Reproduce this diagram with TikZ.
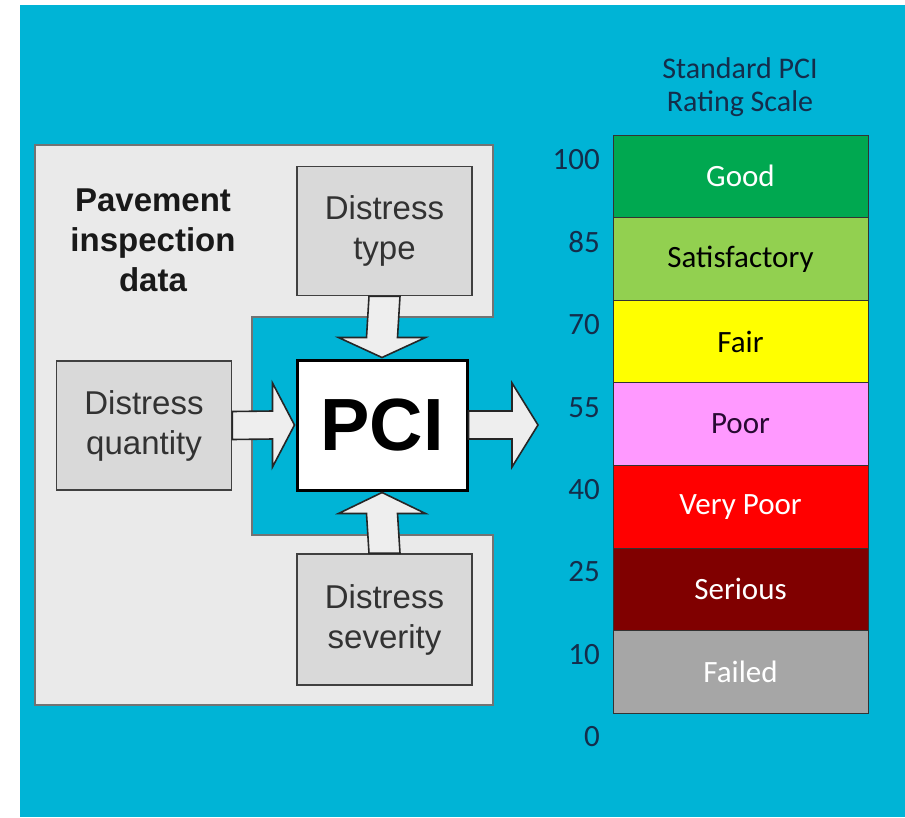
\documentclass[tikz,border=0pt]{standalone}
\usepackage{fontspec}
\setmainfont{Liberation Sans}
\newfontfamily\calfont{Carlito}
\usetikzlibrary{positioning,calc}
\definecolor{skyblue}{RGB}{0,180,214}
\definecolor{panelgray}{RGB}{234,234,234}
\definecolor{boxgray}{RGB}{217,217,217}
\definecolor{arrowgray}{RGB}{238,238,238}
\definecolor{inkgray}{RGB}{50,50,50}
\definecolor{navy}{RGB}{20,45,75}
\definecolor{good}{RGB}{0,168,80}
\definecolor{satis}{RGB}{146,208,80}
\definecolor{fair}{RGB}{255,255,0}
\definecolor{poor}{RGB}{255,153,255}
\definecolor{vpoor}{RGB}{255,0,0}
\definecolor{serious}{RGB}{128,0,0}
\definecolor{failed}{RGB}{166,166,166}
\definecolor{poortext}{RGB}{40,10,50}

\begin{document}
\begin{tikzpicture}[x=1pt, y=-1pt,
 inbox/.style={draw=black!75, line width=1.6pt, fill=boxgray, align=center, inner sep=0pt,
   minimum width=175pt, minimum height=129pt, text=inkgray, font=\fontsize{33}{40}\selectfont},
 pcibox/.style={draw=black, line width=3pt, fill=white, inner sep=0pt,
   minimum width=170pt, minimum height=130pt, font=\fontsize{74}{80}\selectfont\bfseries},
 fatarr/.style={draw=black!85, line width=1.6pt, fill=arrowgray, line join=miter},
 band/.style={draw=black!80, line width=1pt, inner sep=0pt, minimum width=255pt,
   minimum height=82.6pt, font=\calfont\fontsize{31}{33}\selectfont},
 num/.style={anchor=east, inner sep=0pt, text=navy, font=\calfont\fontsize{31}{33}\selectfont}]
\useasboundingbox (0,0) rectangle (905,817);
\fill[white] (0,0) rectangle (905,817);
\fill[skyblue] (20,5) rectangle (905,817);
% inspection data panel
\draw[fill=panelgray, draw=black!55, line width=1.2pt]
  (35,145) -- (493,145) -- (493,317) -- (252,317) -- (252,535) -- (493,535) -- (493,705) -- (35,705) -- cycle;
\node[align=center, text=black!90, font=\fontsize{33}{40}\selectfont\bfseries] (head) at (153,240) {Pavement\\inspection\\data};
\node[inbox] (type) at (384.5,231) {Distress\\type};
\node[inbox] (qty) at (144,425.5) {Distress\\quantity};
\node[inbox, minimum height=131pt] (sev) at (384.5,619.5) {Distress\\severity};
\node[pcibox] (pci) at (382,425) {PCI};
\coordinate (out) at (538,425);
% block arrows
\draw[fatarr] ([xshift=-15.5pt]type.south) -- ([xshift=-15.5pt,yshift=21pt]pci.north) -- ([xshift=-43.5pt,yshift=21pt]pci.north)
  -- ([yshift=1pt]pci.north) -- ([xshift=43.5pt,yshift=21pt]pci.north) -- ([xshift=15.5pt,yshift=21pt]pci.north) -- ([xshift=15.5pt]type.south) -- cycle;
\draw[fatarr] ([xshift=-15.5pt]sev.north) -- ([xshift=-15.5pt,yshift=-22pt]pci.south) -- ([xshift=-43.5pt,yshift=-22pt]pci.south)
  -- ([yshift=-1pt]pci.south) -- ([xshift=43.5pt,yshift=-22pt]pci.south) -- ([xshift=15.5pt,yshift=-22pt]pci.south) -- ([xshift=15.5pt]sev.north) -- cycle;
\draw[fatarr] ([yshift=14pt]qty.east) -- ([xshift=-23pt,yshift=14pt]pci.west) -- ([xshift=-23pt,yshift=42pt]pci.west)
  -- ([xshift=-1pt]pci.west) -- ([xshift=-23pt,yshift=-42pt]pci.west) -- ([xshift=-23pt,yshift=-14pt]pci.west) -- ([yshift=-14pt]qty.east) -- cycle;
\draw[fatarr] ([yshift=14pt]pci.east) -- ([xshift=-26pt,yshift=14pt]out) -- ([xshift=-26pt,yshift=42pt]out)
  -- (out) -- ([xshift=-26pt,yshift=-42pt]out) -- ([xshift=-26pt,yshift=-14pt]out) -- ([yshift=-14pt]pci.east) -- cycle;
% rating scale
\node[align=center, text=navy, font=\calfont\fontsize{30}{33}\selectfont] (title) at (740,87) {Standard PCI\\Rating Scale};
\foreach \lbl/\fc/\tc [count=\i from 0] in {Good/good/white, Satisfactory/satis/black, Fair/fair/black,
  Poor/poor/poortext, Very Poor/vpoor/white, Serious/serious/white, Failed/failed/white}
  \node[band, fill=\fc, text=\tc] (band\i) at (740.5,{176.3+82.6*\i}) {\lbl};
\foreach \v [count=\i from 0] in {100,85,70,55,40,25,10,0}
  \node[num] (n\v) at (600,{160+82.4*\i}) {\v};
\end{tikzpicture}
\end{document}
